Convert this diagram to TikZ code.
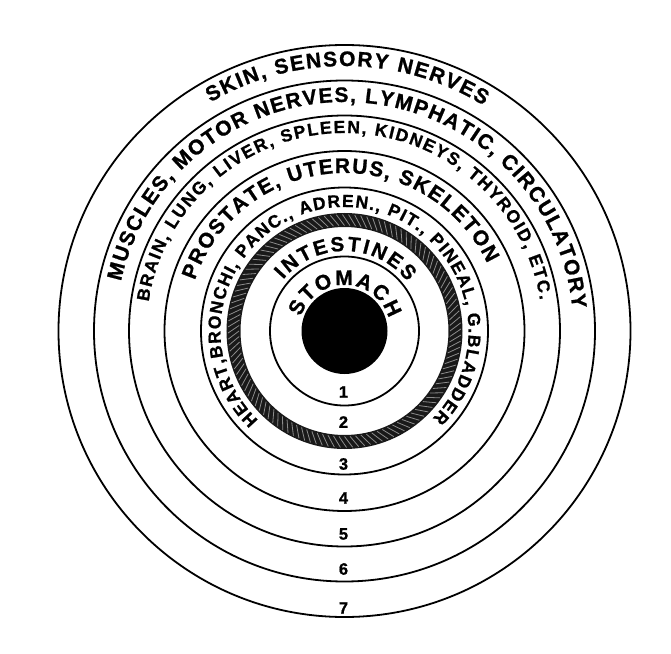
\documentclass[tikz,border=0pt]{standalone}
\usepackage{fontspec}
\setmainfont{Liberation Sans}[BoldFeatures={FakeBold=1}]
\usetikzlibrary{decorations.text}

\begin{document}
\begin{tikzpicture}[x=1pt,y=1pt,
 ring/.style={draw,line width=1.8},
 num/.style={font=\bfseries\fontsize{16.5}{16.5}\selectfont,inner sep=0pt},
 rtxt/.style 2 args={decorate,decoration={text along path,text align=fit to path,
   text={|\bfseries\fontsize{#1}{#1}\selectfont|#2}}}]
\useasboundingbox[fill=white] (-344.5,-322) rectangle (326.5,331);
\coordinate (c) at (0,0);
\foreach \r in {286,250.5,215.5,180,143.5,74.5}
  \draw[ring] (c) circle[radius=\r];
\draw[line width=14,black!90] (c) circle[radius=111];
\foreach \a in {0,3,...,357}
  \draw[black!45,line width=0.8] (\a:105.5) -- (\a+4:116.5);
\fill (c) circle[radius=43];
\path[rtxt={21}{SKIN, SENSORY NERVES}] (c) ++(120.4:265) arc[start angle=120.4,end angle=58.3,radius=265];
\path[rtxt={21}{MUSCLES, MOTOR NERVES, LYMPHATIC, CIRCULATORY}] (c) ++(167.5:229) arc[start angle=167.5,end angle=5.6,radius=229];
\path[rtxt={17.5}{BRAIN, LUNG, LIVER, SPLEEN, KIDNEYS, THYROID, ETC.}] (c) ++(171.5:198) arc[start angle=171.5,end angle=9,radius=198];
\path[rtxt={21}{PROSTATE, UTERUS, SKELETON}] (c) ++(161.3:158) arc[start angle=161.3,end angle=25.3,radius=158];
\path[rtxt={17.5}{HEART,BRONCHI, PANC., ADREN., PIT., PINEAL, G.BLADDER}] (c) ++(226:124) arc[start angle=226,end angle=-44.8,radius=124];
\path[rtxt={20.5}{INTESTINES}] (c) ++(140:80) arc[start angle=140,end angle=38,radius=80];
\path[rtxt={21}{STOMACH}] (c) ++(162:46) arc[start angle=162,end angle=16,radius=46];
\foreach \n/\y in {1/-61,2/-91,3/-133,4/-167,5/-203,6/-238,7/-277}
  \node[num] (n\n) at (-1,\y) {\n};
\end{tikzpicture}
\end{document}
